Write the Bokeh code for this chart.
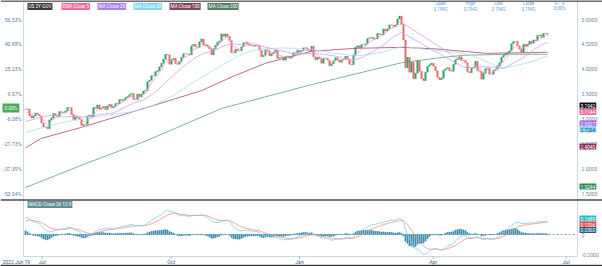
from bokeh.plotting import figure
from bokeh.models import Range1d, Label, Span, ColumnDataSource
from bokeh.core.properties import value
from bokeh.embed import file_html
from bokeh.resources import INLINE

# ---------------- data (daily closes, one bar per weekday from 2022 Jun 19/20) ----------------
closes = [3.1942, 3.20, 3.06, 3.02, 3.06,
          3.12, 3.09, 3.06, 2.92, 2.84,
          2.84, 2.80, 2.98, 3.02, 3.11,
          3.07, 3.05, 3.15, 3.13, 3.13,
          3.16, 3.23, 3.23, 3.09, 2.99,
          3.04, 3.03, 2.99, 2.87, 2.89,
          2.89, 3.06, 3.08, 3.04, 3.23,
          3.21, 3.28, 3.20, 3.22, 3.25,
          3.19, 3.26, 3.29, 3.22, 3.25,
          3.31, 3.30, 3.39, 3.37, 3.39,
          3.43, 3.45, 3.49, 3.51, 3.39,
          3.39, 3.50, 3.44, 3.50, 3.56,
          3.57, 3.75, 3.78, 3.87, 3.87,
          3.95, 3.97, 4.05, 4.12, 4.20,
          4.30, 4.29, 4.10, 4.19, 4.22,
          4.11, 4.10, 4.15, 4.24, 4.31,
          4.31, 4.31, 4.29, 4.47, 4.50,
          4.45, 4.44, 4.55, 4.61, 4.48,
          4.49, 4.45, 4.41, 4.29, 4.41,
          4.48, 4.54, 4.57, 4.71, 4.66,
          4.71, 4.66, 4.58, 4.33, 4.33,
          4.40, 4.37, 4.37, 4.45, 4.53,
          4.54, 4.51, 4.48, 4.48, 4.46,
          4.48, 4.48, 4.38, 4.25, 4.28,
          4.39, 4.37, 4.27, 4.31, 4.34,
          4.38, 4.22, 4.23, 4.24, 4.18,
          4.26, 4.26, 4.22, 4.26, 4.33,
          4.33, 4.38, 4.35, 4.37, 4.43,
          4.43, 4.38, 4.36, 4.46, 4.25,
          4.19, 4.24, 4.21, 4.12, 4.22,
          4.22, 4.18, 4.07, 4.11, 4.17,
          4.23, 4.19, 4.14, 4.19, 4.20,
          4.26, 4.20, 4.10, 4.09, 4.29,
          4.44, 4.47, 4.43, 4.49, 4.49,
          4.51, 4.62, 4.63, 4.64, 4.61,
          4.61, 4.72, 4.70, 4.69, 4.81,
          4.77, 4.81, 4.89, 4.89, 4.86,
          4.89, 5.01, 5.07, 4.90, 4.59,
          4.03, 4.24, 3.94, 4.14, 3.81,
          3.92, 4.17, 3.96, 3.81, 3.77,
          3.94, 4.06, 4.09, 4.12, 4.06,
          3.97, 3.84, 3.79, 3.82, 3.98,
          4.01, 4.03, 3.97, 3.96, 4.10,
          4.19, 4.21, 4.25, 4.18, 4.18,
          4.13, 3.95, 3.93, 4.02, 4.04,
          4.16, 3.97, 3.96, 3.80, 3.92,
          4.01, 4.02, 3.90, 3.90, 3.98,
          4.00, 4.07, 4.13, 4.24, 4.28,
          4.31, 4.33, 4.37, 4.51, 4.56,
          4.56, 4.47, 4.40, 4.34, 4.50,
          4.46, 4.50, 4.56, 4.52, 4.59,
          4.58, 4.68, 4.69, 4.64, 4.72,
          4.72, 4.70]
first_open = 3.1942

# moving averages (bar index, value)
ma20_i = [0, 5, 10, 15, 19, 24, 29, 34, 39, 44, 49, 54, 59, 64, 69, 74, 79, 84, 89, 94, 99, 104,
          109, 114, 119, 124, 129, 134, 139, 144, 149, 154, 159, 164, 169, 174, 179, 184, 188,
          219, 224, 229, 234, 239, 244, 249, 254, 259, 261]
ma20_v = [2.95, 3.00, 3.06, 3.07, 3.04, 3.05, 3.04, 3.07, 3.10, 3.12, 3.22, 3.32, 3.38, 3.51, 3.69,
          3.88, 4.06, 4.21, 4.32, 4.37, 4.47, 4.51, 4.49, 4.51, 4.45, 4.41, 4.36, 4.31, 4.31, 4.32,
          4.30, 4.27, 4.23, 4.18, 4.25, 4.36, 4.49, 4.65, 4.74, 4.04, 4.03, 4.05, 4.04, 4.02, 4.12,
          4.24, 4.39, 4.51, 4.54]
ma50_i = [0, 10, 20, 30, 40, 49, 54, 59, 64, 69, 74, 79, 84, 89, 94, 99, 104, 109, 114, 119, 124,
          129, 134, 139, 144, 149, 154, 159, 164, 169, 174, 179, 184, 189, 194, 199, 204, 209, 214,
          219, 224, 229, 234, 239, 244, 249, 254, 259, 261]
ma50_v = [2.73, 2.84, 2.94, 3.01, 3.07, 3.12, 3.15, 3.20, 3.28, 3.37, 3.48, 3.60, 3.74, 3.86, 3.98,
          4.10, 4.21, 4.31, 4.38, 4.41, 4.42, 4.43, 4.42, 4.40, 4.40, 4.36, 4.32, 4.30, 4.27, 4.28,
          4.31, 4.35, 4.41, 4.46, 4.43, 4.40, 4.39, 4.36, 4.34, 4.32, 4.26, 4.18, 4.09, 4.02, 4.06,
          4.11, 4.16, 4.24, 4.26]
ma100_i = [0, 8, 28, 64, 88, 104, 120, 143, 165, 188, 205, 230, 261]
ma100_v = [2.42, 2.61, 2.83, 3.27, 3.57, 3.86, 4.12, 4.36, 4.42, 4.44, 4.41, 4.32, 4.34]
ma200_i = [0, 30, 61, 98, 143, 188, 205, 219, 240, 261]
ma200_v = [1.62, 2.10, 2.57, 3.21, 3.69, 4.13, 4.22, 4.28, 4.30, 4.30]

ema5_start = 3.1144
ema5_gap = (188, 218)           # the EMA 5 line is drawn straight across this span
macd_start, signal_start = 0.1689, 0.1326
ema12_start = 3.05

price_ticks = [5.0, 4.5, 4.0, 3.5, 3.0, 2.5, 2.0, 1.5]
price_labels = ["5.0000", "4.5000", "4.0000", "3.5000", "3.0000", "2.5000", "2.0000", "1.5000"]
pct_labels = ["56.53%", "40.88%", "25.23%", "9.57%", "-6.08%", "-21.73%", "-37.39%", "-53.04%"]
macd_ticks = [0.0, -0.2]
macd_labels = ["0", "-0.2000"]
month_ticks = [8.35, 72.85, 137.0, 203.85, 270.35]
month_labels = ["Jul", "Oct", "Jan", "Apr", "Jul"]

legend_names = ["US 2Y GOV", "EMA Close 5", "MA Close 20", "MA Close 50", "MA Close 100", "MA Close 200"]
ohlc_heads = ["Open", "High", "Low", "Close", "+/- %"]
ohlc_vals = ["3.1942", "3.1942", "3.1942", "3.1942", "0.00%"]
price_tags = ["3.1942", "3.1144", "2.9527", "2.7264", "2.4040", "1.5244"]
macd_tags = ["0.1689", "0.1326", "0.0360"]
date_label = "2022 Jun 19"
zero_pct = "0.00%"
macd_name = "MACD Close 26 12 9"

# ---------------- derived series ----------------
n = len(closes)
idx = list(range(n))
opens = [first_open] + closes[:-1]
up = "#35a06a"
down = "#e2706c"
cols = [up if c >= o else down for o, c in zip(opens, closes)]
tops = [max(o, c) for o, c in zip(opens, closes)]
bots = [min(o, c) for o, c in zip(opens, closes)]

ema5 = [ema5_start]
for c in closes[1:]:
    ema5.append(ema5[-1] + (c - ema5[-1]) / 3.0)
ema_i = [i for i in idx if not (ema5_gap[0] < i < ema5_gap[1])]
ema_v = [ema5[i] for i in ema_i]

e12 = ema12_start
e26 = ema12_start - macd_start
sig = signal_start
macd = [macd_start]
signal = [signal_start]
for c in closes[1:]:
    e12 += (c - e12) * 2.0 / 13.0
    e26 += (c - e26) * 2.0 / 27.0
    m = e12 - e26
    sig += (m - sig) * 2.0 / 10.0
    macd.append(m)
    signal.append(sig)
hist = [m - s for m, s in zip(macd, signal)]

# ---------------- pixel helpers (layout only) ----------------
PX = 174.0 / 3.5
def Y(py):
    return 5.0 - (py - 19.0) / PX
def X(px):
    return -1.0 + (px - 23.0) / 2.0
def MV(py):
    return (234.0 - py) / 100.0

FONT = "Roboto"
W, H = 602, 266

p = figure(width=W, height=H, output_backend="svg", toolbar_location=None,
           x_range=Range1d(X(0), X(W)), y_range=Range1d(Y(H), Y(0)),
           x_axis_location=None, y_axis_location=None,
           min_border=0, min_border_left=0, min_border_right=0, min_border_top=0, min_border_bottom=0,
           outline_line_color=None, background_fill_color="white", border_fill_color="white")
p.extra_y_ranges = {"macd": Range1d(MV(H), MV(0))}
p.grid.visible = False

axis_col = "#cbd7e3"

# ---------------- frame lines ----------------
p.segment(x0=[X(23), X(577)], y0=[Y(2), Y(0)], x1=[X(23), X(577)], y1=[Y(256), Y(256)],
          line_color=axis_col, line_width=1)
p.segment(x0=[X(23)], y0=[Y(256)], x1=[X(577)], y1=[Y(256)], line_color=axis_col, line_width=1)
p.segment(x0=month_ticks, y0=[Y(256)] * len(month_ticks), x1=month_ticks,
          y1=[Y(258.5)] * len(month_ticks), line_color="#9fb3c8", line_width=1)

# ---------------- main panel ----------------
src = ColumnDataSource(dict(x=idx, top=tops, bottom=bots, color=cols))
p.vbar(x="x", width=0.78, top="top", bottom="bottom", fill_color="color", line_color="color",
       line_width=0.4, source=src)

p.line(ma200_i, ma200_v, line_color="#5aa273", line_width=0.8)
p.line(ma100_i, ma100_v, line_color="#a8476a", line_width=0.8)
p.line(ma50_i, ma50_v, line_color="#a6def5", line_width=0.8)
p.line(ma20_i, ma20_v, line_color="#c7a3f5", line_width=0.8)
p.line(ema_i, ema_v, line_color="#f49ac0", line_width=0.8)

# separators / bars
p.add_layout(Span(location=Y(199.5), dimension="width", line_color="#4a4a4a", line_width=1.6))
p.add_layout(Span(location=Y(0.6), dimension="width", line_color="#3a3a3a", line_width=1.5))
p.add_layout(Span(location=Y(265.2), dimension="width", line_color="#3a3a3a", line_width=1.8))

# ---------------- MACD panel ----------------
p.vbar(x=idx, width=0.7, top=hist, bottom=0, y_range_name="macd",
       fill_color="#3f8fb0", line_color="#3f8fb0", line_width=0.3)
p.segment(x0=[X(24)], y0=[0], x1=[X(576)], y1=[0], y_range_name="macd",
          line_color="#2c6684", line_width=0.6, line_dash="2 2")
p.line(idx, signal, y_range_name="macd", line_color="#f28c88", line_width=0.8)
p.line(idx, macd, y_range_name="macd", line_color="#78cbe8", line_width=0.8)

# ---------------- axis texts ----------------
TXT = dict(text_font=value(FONT), text_font_size="5.2px", text_baseline="middle")
p.text(x=[X(21)] * len(price_ticks), y=price_ticks, text=pct_labels, text_align="right",
       text_color="#5a7aa2", **TXT)
p.text(x=[X(581)] * len(price_ticks), y=price_ticks, text=price_labels, text_align="left",
       text_color="#6d88a8", **TXT)
p.text(x=[X(581)] * len(macd_ticks), y=macd_ticks, text=macd_labels, text_align="left",
       text_color="#6d88a8", y_range_name="macd", **TXT)
p.text(x=month_ticks, y=[Y(261.5)] * len(month_ticks), text=month_labels, text_align="center",
       text_color="#3d5f86", **TXT)

# ---------------- annotations ----------------
def tag(text, px, py, bg=None, fg="white", size="4.8px", align="left", pad=1):
    kw = dict(x=X(px), y=Y(py), text=text, text_font=FONT, text_font_size=size,
              text_color=fg, text_align=align, text_baseline="middle")
    if bg is not None:
        kw.update(background_fill_color=bg, background_fill_alpha=1.0, padding=pad)
    p.add_layout(Label(**kw))

leg_bg = ["#3b3b3b", "#f06a9a", "#b07cf0", "#86d3f2", "#80465e", "#557e68"]
leg_x = [27, 61, 97, 133, 169, 207]
for name, bg, px in zip(legend_names, leg_bg, leg_x):
    tag(name, px, 6, bg=bg, size="4.7px")

head_x = [440, 470, 498, 528, 559]
for h, v, px in zip(ohlc_heads, ohlc_vals, head_x):
    tag(h, px, 3.3, fg="#5b9bd5", size="4.5px", align="center")
    tag(v, px, 8.4, fg="#5b9bd5", size="4.5px", align="center")

tag_bg = ["#141414", "#f06a9a", "#a06cf0", "#86d3f2", "#8c2a55", "#2e8b57"]
tag_fg = ["white", "white", "white", "#1e4f7e", "white", "white"]
tag_y = [105, 111.5, 123, 129, 146, 186]
for t, bg, fg, py in zip(price_tags, tag_bg, tag_fg, tag_y):
    tag(t, 579, py, bg=bg, fg=fg, size="4.8px")

mtag_bg = ["#2fb6c9", "#ef5350", "#1f5e85"]
mtag_y = [218, 224, 229.5]
for t, bg, py in zip(macd_tags, mtag_bg, mtag_y):
    tag(t, 579, py, bg=bg, size="4.8px")

tag(zero_pct, 2, 107.5, bg="#45ad55", size="4.8px", pad=2)
tag(macd_name, 27, 204, bg="#5f8f99", size="4.7px")
tag(date_label, 2, 261.5, fg="#2f5580", size="5px")

open("out.html", "w").write(file_html(p, INLINE))
